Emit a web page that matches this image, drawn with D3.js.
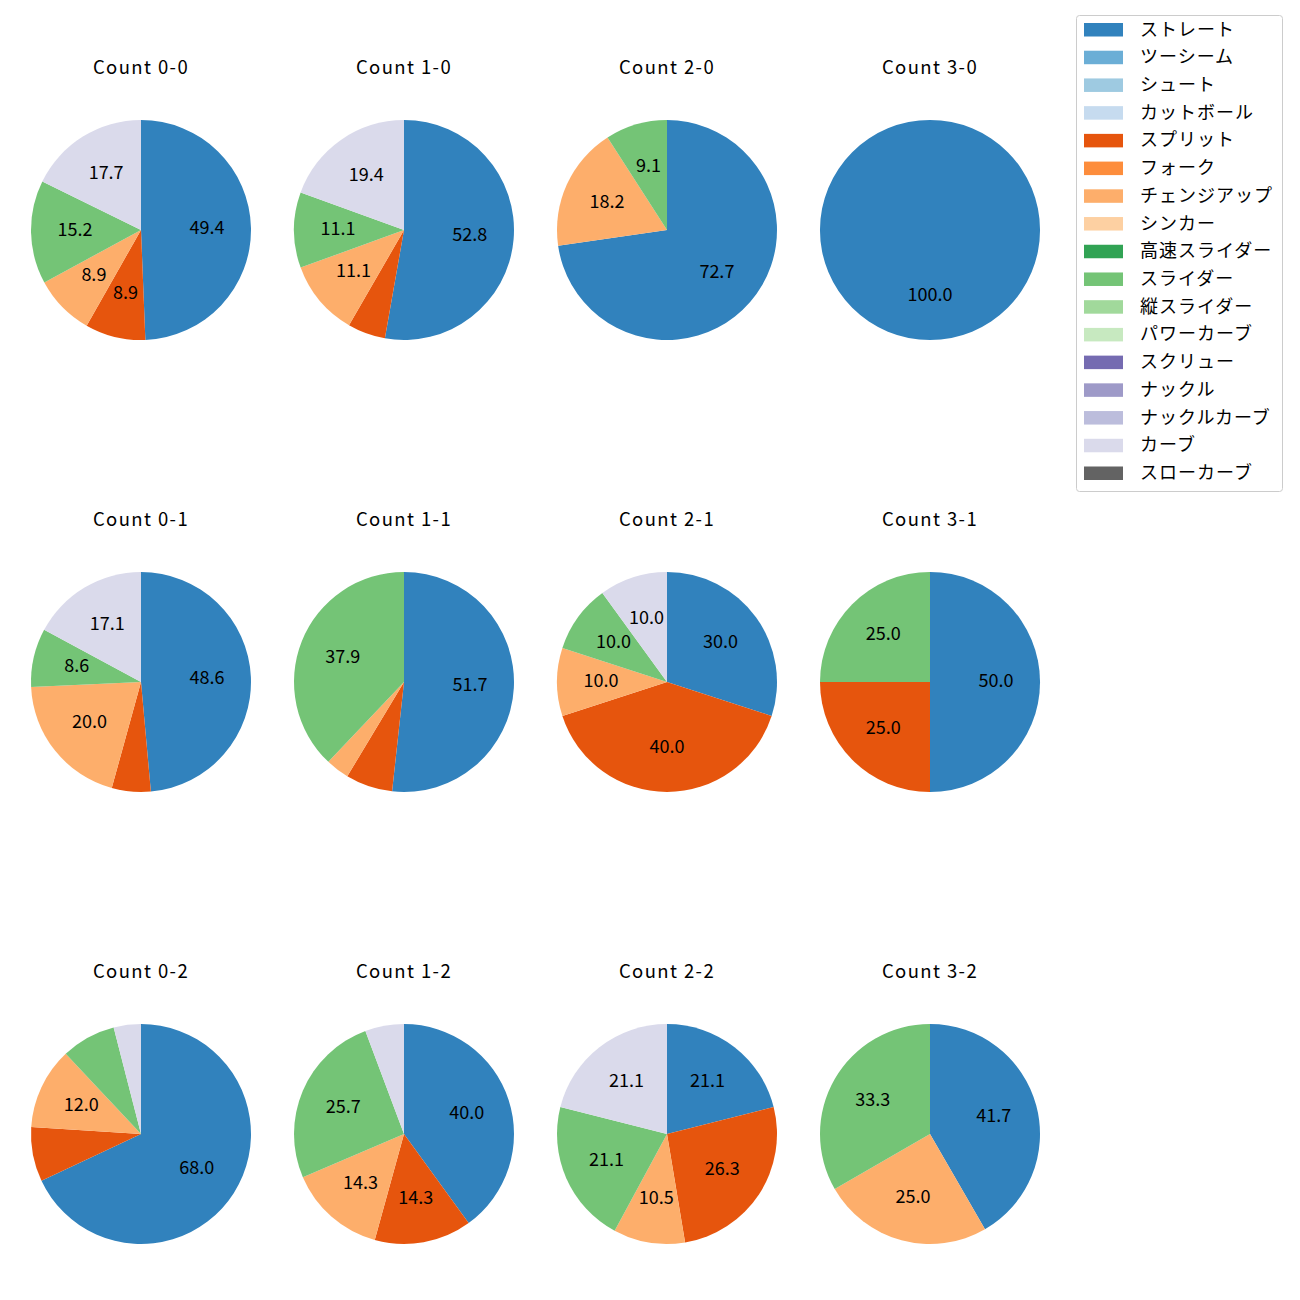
<!DOCTYPE html>
<html><head><meta charset="utf-8">
<script src="https://cdn.jsdelivr.net/npm/d3@7"></script>
<style>body{margin:0;background:#fff}svg{display:block}</style>
</head><body>
<svg id="c" width="1300" height="1300"></svg>
<script>
const pitchTypes = ["ストレート","ツーシーム","シュート","カットボール","スプリット","フォーク","チェンジアップ","シンカー","高速スライダー","スライダー","縦スライダー","パワーカーブ","スクリュー","ナックル","ナックルカーブ","カーブ","スローカーブ"];
const pitchColors = ["#3182bd","#6baed6","#9ecae1","#c6dbef","#e6550d","#fd8d3c","#fdae6b","#fdd0a2","#31a354","#74c476","#a1d99b","#c7e9c0","#756bb1","#9e9ac8","#bcbddc","#dadaeb","#636363"];
const counts = ["0-0","1-0","2-0","3-0","0-1","1-1","2-1","3-1","0-2","1-2","2-2","3-2"];
// pitch counts per type (order: ストレート, スプリット, チェンジアップ, スライダー, カーブ)
const shownTypes = ["ストレート","スプリット","チェンジアップ","スライダー","カーブ"];
const values = [
  [39,7,7,12,14],
  [19,2,4,4,7],
  [8,0,2,1,0],
  [1,0,0,0,0],
  [17,2,7,3,6],
  [15,2,1,11,0],
  [3,4,1,1,1],
  [2,1,0,1,0],
  [17,2,3,2,1],
  [14,5,5,9,2],
  [4,5,2,4,4],
  [5,0,3,4,0]
];

const svg = d3.select("#c");
const font = "'Noto Sans CJK JP','Noto Sans',sans-serif";
const colX = d3.scalePoint().domain([0,1,2,3]).range([141,930]);
const rowY = d3.scalePoint().domain([0,1,2]).range([230,1134]);
const R = 110;
const color = d3.scaleOrdinal().domain(pitchTypes).range(pitchColors);
const pie = d3.pie().sort(null).value(d=>d.v).startAngle(0).endAngle(2*Math.PI);
const arc = d3.arc().innerRadius(0).outerRadius(R);
const labelArc = d3.arc().innerRadius(R*0.6).outerRadius(R*0.6);

counts.forEach((c,i)=>{
  const cx = colX(i%4), cy = rowY(Math.floor(i/4));
  const data = shownTypes.map((t,j)=>({t, v:values[i][j]})).filter(d=>d.v>0);
  const total = d3.sum(data,d=>d.v);
  const g = svg.append("g").attr("transform",`translate(${cx},${cy})`);
  const arcs = pie(data);
  g.selectAll("path").data(arcs).join("path")
    .attr("d",arc).attr("fill",d=>color(d.data.t));
  g.selectAll("text.l").data(arcs.filter(d=>d.data.v/total*100>8.2)).join("text")
    .attr("class","l")
    .attr("transform",d=>{
      if (data.length===1) return "translate(0,66)";
      const [x,y]=labelArc.centroid(d); return `translate(${x},${y})`;})
    .attr("text-anchor","middle").attr("dominant-baseline","central").attr("dy",-3)
    .attr("font-family",font).attr("font-size",18).attr("fill","#000")
    .text(d=>(d.data.v/total*100).toFixed(1));
  svg.append("text").attr("x",cx).attr("y",cy-164)
    .attr("text-anchor","middle").attr("dominant-baseline","central")
    .attr("font-family",font).attr("font-size",18.5).attr("letter-spacing",1.4).attr("fill","#000")
    .text("Count "+c);
});

// legend
const lg = svg.append("g");
lg.append("rect").attr("x",1076.5).attr("y",15.5).attr("width",206).attr("height",476)
  .attr("rx",3).attr("fill","#fff").attr("stroke","#cccccc").attr("stroke-width",1);
const ly = d3.scaleLinear().domain([0,pitchTypes.length-1]).range([29.5,473]);
pitchTypes.forEach((t,k)=>{
  lg.append("rect").attr("x",1084).attr("y",ly(k)-6.5).attr("width",39).attr("height",13.5)
    .attr("fill",color(t));
  lg.append("text").attr("x",1140).attr("y",ly(k)-2).attr("dominant-baseline","central")
    .attr("font-family",font).attr("font-size",18).attr("letter-spacing",1).attr("fill","#000").text(t);
});
</script>
</body></html>
